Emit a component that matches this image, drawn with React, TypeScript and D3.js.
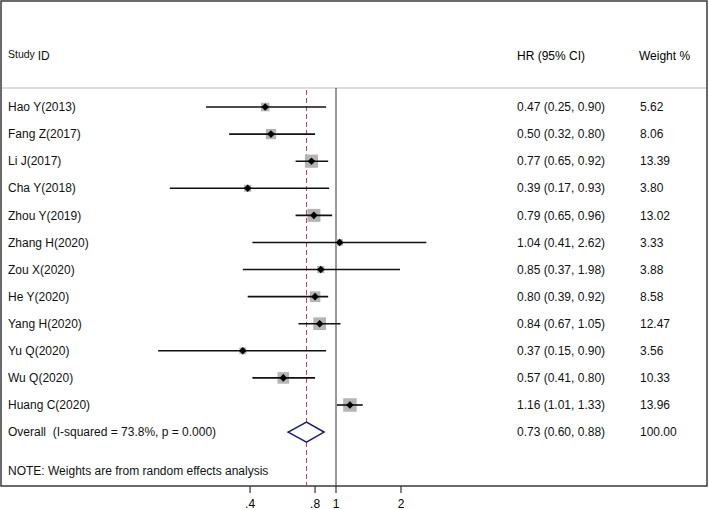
import * as d3 from "d3";
import { useEffect, useRef } from "react";

const studies = ["Hao Y(2013)", "Fang Z(2017)", "Li J(2017)", "Cha Y(2018)", "Zhou Y(2019)", "Zhang H(2020)",
  "Zou X(2020)", "He Y(2020)", "Yang H(2020)", "Yu Q(2020)", "Wu Q(2020)", "Huang C(2020)"];
const hr = [0.47, 0.50, 0.77, 0.39, 0.79, 1.04, 0.85, 0.80, 0.84, 0.37, 0.57, 1.16];
const lower = [0.25, 0.32, 0.65, 0.17, 0.65, 0.41, 0.37, 0.39, 0.67, 0.15, 0.41, 1.01];
const upper = [0.90, 0.80, 0.92, 0.93, 0.96, 2.62, 1.98, 0.92, 1.05, 0.90, 0.80, 1.33];
const weights = [5.62, 8.06, 13.39, 3.80, 13.02, 3.33, 3.88, 8.58, 12.47, 3.56, 10.33, 13.96];

const overallLabel = "Overall  (I-squared = 73.8%, p = 0.000)";
const overall = { hr: 0.73, lo: 0.60, hi: 0.88, weight: 100.0 };
const ticks = [0.4, 0.8, 1, 2];
const tickLabels = [".4", ".8", "1", "2"];

const fmt = d3.format(".2f");

export default function App() {
  const ref = useRef<SVGSVGElement>(null);

  useEffect(() => {
    const svg = d3.select(ref.current);
    svg.selectAll("*").remove();

    const width = 709;
    const height = 510;
    const font = "'Liberation Sans', Arial, sans-serif";

    svg.attr("width", width).attr("height", height)
      .style("font-family", font);

    const x = d3.scaleLog().domain([1, 2]).range([336, 401]);
    const y = d3.scaleLinear().domain([0, 11]).range([107, 405]);
    const size = d3.scaleSqrt().domain([0, 14]).range([0, 13.5]);

    const top = 88;
    const bottom = 486;

    // frame
    svg.append("rect")
      .attr("x", 1).attr("y", 1)
      .attr("width", 706).attr("height", bottom - 1)
      .attr("fill", "white")
      .attr("stroke", "#3a3a3a").attr("stroke-width", 1.5);

    // header separator
    svg.append("line")
      .attr("x1", 2).attr("x2", 706)
      .attr("y1", top).attr("y2", top)
      .attr("stroke", "#dcdcdc").attr("stroke-width", 2);

    // header
    const head = svg.append("text").attr("x", 8).attr("y", 60).attr("fill", "#111");
    head.append("tspan").attr("font-size", 10.5).attr("dy", -2).text("Study ");
    head.append("tspan").attr("font-size", 12).attr("dy", 2).text("ID");
    svg.append("text").attr("x", 517).attr("y", 60).attr("font-size", 12).text("HR (95% CI)");
    svg.append("text").attr("x", 639).attr("y", 60).attr("font-size", 12).text("Weight %");

    // null line and overall line
    svg.append("line")
      .attr("x1", x(1)).attr("x2", x(1))
      .attr("y1", top).attr("y2", bottom)
      .attr("stroke", "#333").attr("stroke-width", 1);

    svg.append("line")
      .attr("x1", x(overall.hr)).attr("x2", x(overall.hr))
      .attr("y1", top + 2).attr("y2", bottom)
      .attr("stroke", "#b5485a").attr("stroke-width", 1)
      .attr("stroke-dasharray", "5,3");

    const rows = studies.map((s, i) => ({ s, i, hr: hr[i], lo: lower[i], hi: upper[i], w: weights[i] }));

    svg.append("g").selectAll("rect")
      .data(rows)
      .join("rect")
      .attr("x", d => x(d.hr) - size(d.w) / 2)
      .attr("y", d => y(d.i) - size(d.w) / 2)
      .attr("width", d => size(d.w))
      .attr("height", d => size(d.w))
      .attr("fill", "#b4b4b4");

    svg.append("g").selectAll("line")
      .data(rows)
      .join("line")
      .attr("x1", d => x(d.lo)).attr("x2", d => x(d.hi))
      .attr("y1", d => y(d.i)).attr("y2", d => y(d.i))
      .attr("stroke", "#111").attr("stroke-width", 1.6);

    svg.append("g").selectAll("path")
      .data(rows)
      .join("path")
      .attr("d", d => {
        const cx = x(d.hr), cy = y(d.i), r = 3.8;
        return `M${cx},${cy - r} L${cx + r},${cy} L${cx},${cy + r} L${cx - r},${cy} Z`;
      })
      .attr("fill", "#000");

    const txt = svg.append("g").attr("font-size", 12).attr("fill", "#111");
    txt.selectAll("text.lab")
      .data(rows)
      .join("text").attr("class", "lab")
      .attr("x", 8).attr("y", d => y(d.i)).attr("dy", "0.35em")
      .text(d => d.s);
    txt.selectAll("text.est")
      .data(rows)
      .join("text").attr("class", "est")
      .attr("x", 517).attr("y", d => y(d.i)).attr("dy", "0.35em")
      .text(d => `${fmt(d.hr)} (${fmt(d.lo)}, ${fmt(d.hi)})`);
    txt.selectAll("text.w")
      .data(rows)
      .join("text").attr("class", "w")
      .attr("x", 640).attr("y", d => y(d.i)).attr("dy", "0.35em")
      .text(d => fmt(d.w));

    // overall
    const yo = y(12);
    txt.append("text").attr("x", 8).attr("y", yo).attr("dy", "0.35em")
      .style("white-space", "pre").text(overallLabel);
    txt.append("text").attr("x", 517).attr("y", yo).attr("dy", "0.35em")
      .text(`${fmt(overall.hr)} (${fmt(overall.lo)}, ${fmt(overall.hi)})`);
    txt.append("text").attr("x", 640).attr("y", yo).attr("dy", "0.35em").text(fmt(overall.weight));

    const dh = 10;
    svg.append("path")
      .attr("d", `M${x(overall.lo)},${yo} L${x(overall.hr)},${yo - dh} L${x(overall.hi)},${yo} L${x(overall.hr)},${yo + dh} Z`)
      .attr("fill", "white")
      .attr("stroke", "#1c1c78").attr("stroke-width", 1.6);

    txt.append("text").attr("x", 8).attr("y", 471).attr("dy", "0.35em")
      .text("NOTE: Weights are from random effects analysis");

    // axis ticks
    const ax = svg.append("g");
    ax.selectAll("line")
      .data(ticks)
      .join("line")
      .attr("x1", d => x(d)).attr("x2", d => x(d))
      .attr("y1", bottom).attr("y2", bottom + 7)
      .attr("stroke", "#333").attr("stroke-width", 1.2);
    ax.selectAll("text")
      .data(ticks)
      .join("text")
      .attr("x", d => x(d)).attr("y", 504).attr("dy", "0.35em")
      .attr("text-anchor", "middle").attr("font-size", 12)
      .text((d, i) => tickLabels[i]);
  }, []);

  return (
    <div style={{ position: "absolute", left: 0, top: 0 }}>
      <svg ref={ref}></svg>
    </div>
  );
}
